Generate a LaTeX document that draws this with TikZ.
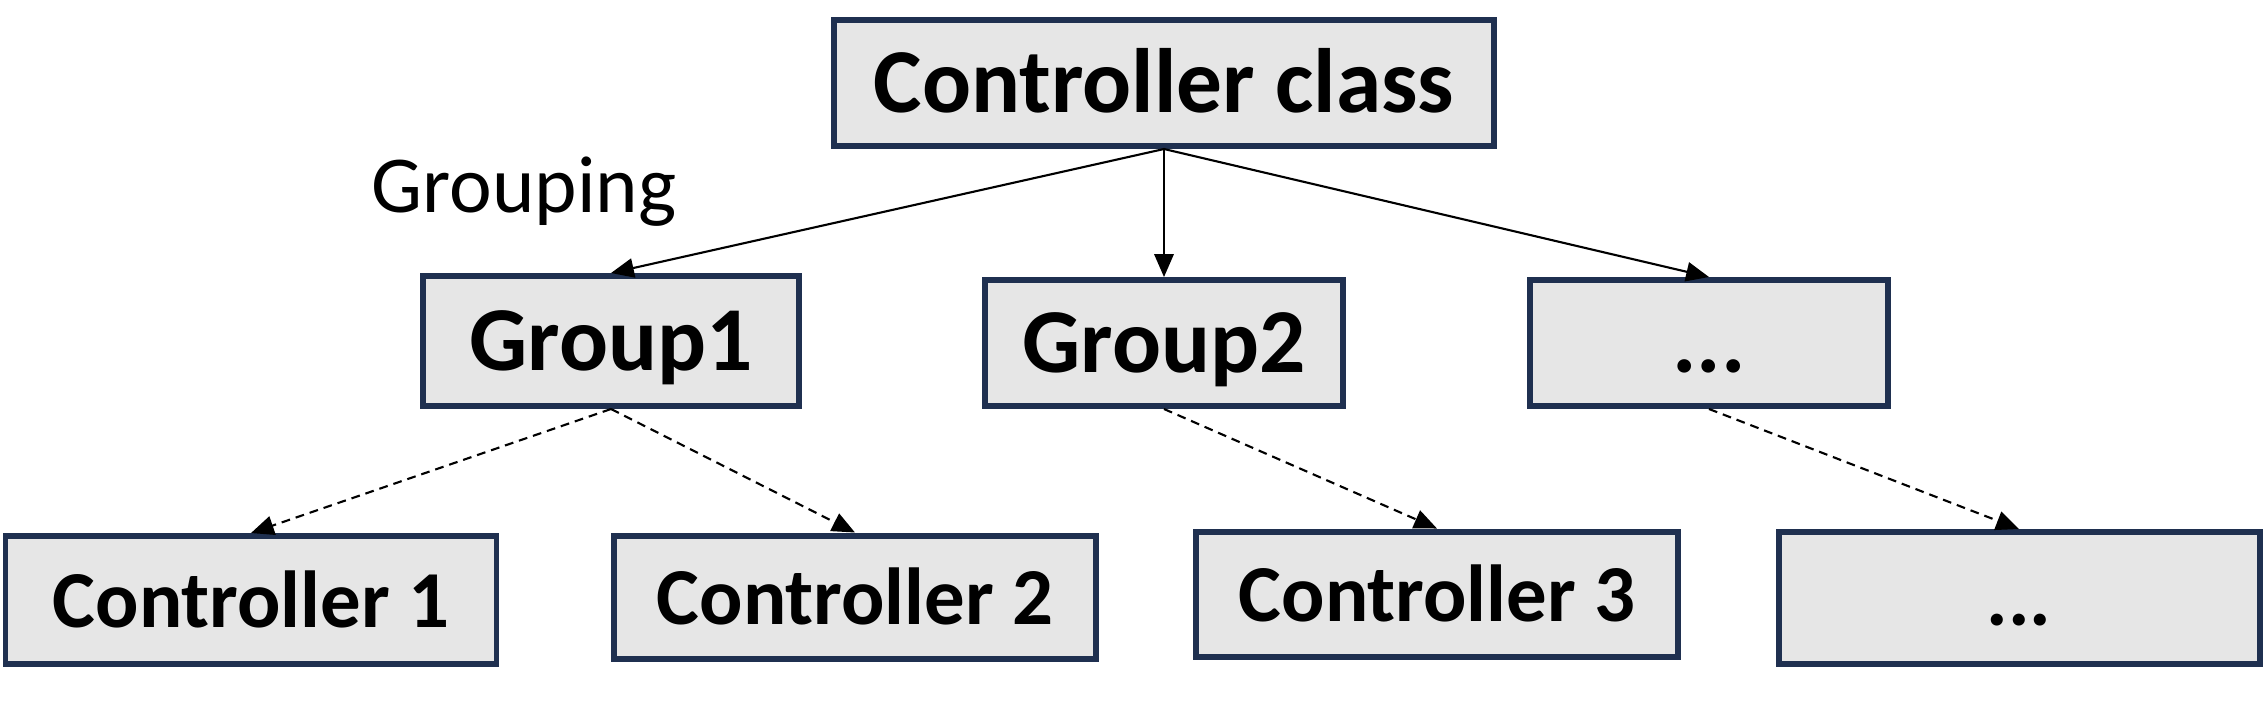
\documentclass[tikz,border=0pt]{standalone}
\usepackage{fontspec}
\setmainfont{Carlito}
\usepackage{tikz}
\usetikzlibrary{arrows.meta}
\definecolor{boxline}{HTML}{1F3050}
\definecolor{boxfill}{HTML}{E6E6E6}

\begin{document}
\begin{tikzpicture}[
  box/.style={draw=boxline, fill=boxfill, line width=1.7pt, inner sep=0pt,
    text height=0.62cm, text depth=0.04cm, font=\fontsize{26}{30}\selectfont\bfseries},
  leaf/.style={box, text height=0.58cm, font=\fontsize{23}{27}\selectfont\bfseries},
  link/.style={line width=0.6pt},
  sub/.style={line width=0.6pt, dash pattern=on 2.5pt off 1.7pt},
  >={Triangle[length=6.5pt,width=5.5pt]}
]
\useasboundingbox (0,0) rectangle (22.65,-7.09);
\node [box, minimum width=6.6cm, minimum height=1.26cm] (cls) at (11.64,-0.83) {Controller class};
\node [box, minimum width=3.76cm, minimum height=1.3cm] (g1) at (6.11,-3.41) {Group1};
\node [box, minimum width=3.58cm, minimum height=1.26cm] (g2) at (11.64,-3.43) {Group2};
\node [box, minimum width=3.58cm, minimum height=1.26cm] (gx) at (17.09,-3.43) {...};
\node [leaf, minimum width=4.91cm, minimum height=1.28cm] (c1) at (2.51,-6.00) {Controller 1};
\node [leaf, minimum width=4.82cm, minimum height=1.23cm] (c2) at (8.55,-5.97) {Controller 2};
\node [leaf, minimum width=4.82cm, minimum height=1.25cm] (c3) at (14.37,-5.94) {Controller 3};
\node [leaf, minimum width=4.81cm, minimum height=1.32cm] (cx) at (20.19,-5.98) {...};
\node [font=\fontsize{23}{27}\selectfont] (grp) at (5.24,-1.92) {Grouping};
\path [->, link] (cls.south) edge (g1.north);
\path [->, link] (cls.south) edge (g2.north);
\path [->, link] (cls.south) edge (gx.north);
\path [->, sub] (g1.south) edge (c1.north);
\path [->, sub] (g1.south) edge (c2.north);
\path [->, sub] (g2.south) edge (c3.north);
\path [->, sub] (gx.south) edge (cx.north);
\end{tikzpicture}
\end{document}
